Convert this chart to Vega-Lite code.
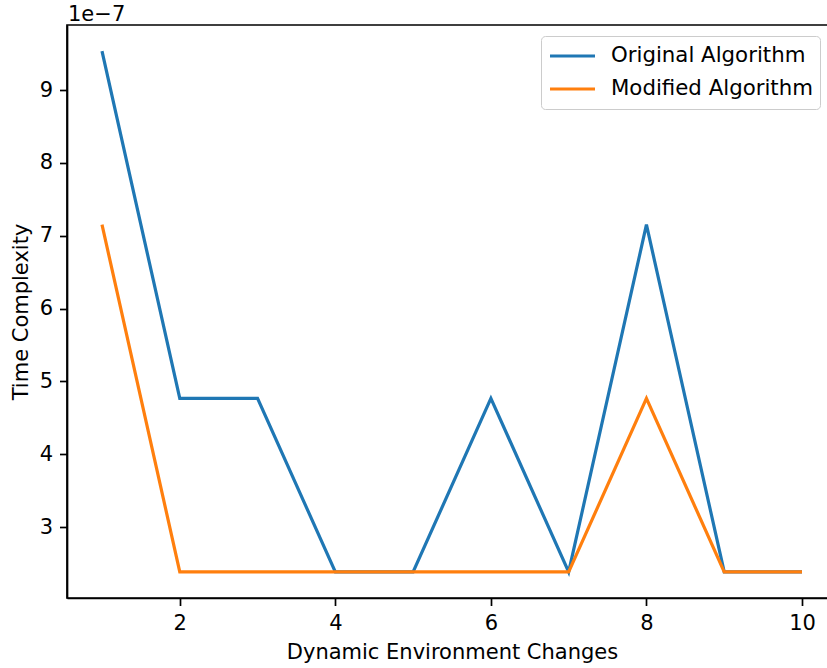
{
  "$schema": "https://vega.github.io/schema/vega-lite/v6.json",
  "width": 770,
  "height": 573,
  "autosize": {"type": "none"},
  "padding": {"left": 67, "top": 25, "right": 0, "bottom": 70},
  "background": "white",
  "title": {"text": "1e−7", "anchor": "start", "frame": "group", "fontSize": 21, "fontWeight": "normal", "font": "DejaVu Sans", "color": "#000", "offset": 5, "dy": 5, "dx": 1},
  "config": {
    "view": {"stroke": "#000", "strokeWidth": 1.7},
    "font": "DejaVu Sans",
    "axis": {
      "grid": false,
      "domainColor": "#000",
      "domainWidth": 1.7,
      "tickColor": "#000",
      "tickWidth": 1.7,
      "tickSize": 7.5,
      "labelFontSize": 21,
      "labelColor": "#000",
      "labelPadding": 7,
      "titleFontSize": 21,
      "titleFontWeight": "normal",
      "titleColor": "#000",
      "titlePadding": 8,
      "labelFont": "DejaVu Sans",
      "titleFont": "DejaVu Sans"
    }
  },
  "data": {
    "values": [
      {"change": 1, "time": 9.5367e-7, "series": "Original Algorithm"},
      {"change": 2, "time": 4.7684e-7, "series": "Original Algorithm"},
      {"change": 3, "time": 4.7684e-7, "series": "Original Algorithm"},
      {"change": 4, "time": 2.3842e-7, "series": "Original Algorithm"},
      {"change": 5, "time": 2.3842e-7, "series": "Original Algorithm"},
      {"change": 6, "time": 4.7684e-7, "series": "Original Algorithm"},
      {"change": 7, "time": 2.3842e-7, "series": "Original Algorithm"},
      {"change": 8, "time": 7.1526e-7, "series": "Original Algorithm"},
      {"change": 9, "time": 2.3842e-7, "series": "Original Algorithm"},
      {"change": 10, "time": 2.3842e-7, "series": "Original Algorithm"},
      {"change": 1, "time": 7.1526e-7, "series": "Modified Algorithm"},
      {"change": 2, "time": 2.3842e-7, "series": "Modified Algorithm"},
      {"change": 3, "time": 2.3842e-7, "series": "Modified Algorithm"},
      {"change": 4, "time": 2.3842e-7, "series": "Modified Algorithm"},
      {"change": 5, "time": 2.3842e-7, "series": "Modified Algorithm"},
      {"change": 6, "time": 2.3842e-7, "series": "Modified Algorithm"},
      {"change": 7, "time": 2.3842e-7, "series": "Modified Algorithm"},
      {"change": 8, "time": 4.7684e-7, "series": "Modified Algorithm"},
      {"change": 9, "time": 2.3842e-7, "series": "Modified Algorithm"},
      {"change": 10, "time": 2.3842e-7, "series": "Modified Algorithm"}
    ]
  },
  "mark": {"type": "line", "strokeWidth": 3.2, "clip": true},
  "encoding": {
    "x": {
      "field": "change", "type": "quantitative",
      "scale": {"domain": [0.55, 10.45], "nice": false, "zero": false},
      "axis": {"values": [2, 4, 6, 8, 10], "format": "d", "title": "Dynamic Environment Changes"}
    },
    "y": {
      "field": "time", "type": "quantitative",
      "scale": {"domain": [2.0266e-7, 9.8943e-7], "nice": false, "zero": false},
      "axis": {"values": [3e-7, 4e-7, 5e-7, 6e-7, 7e-7, 8e-7, 9e-7], "labelExpr": "format(datum.value * 1e7, '.0f')", "title": "Time Complexity"}
    },
    "color": {
      "field": "series", "type": "nominal",
      "scale": {"domain": ["Original Algorithm", "Modified Algorithm"], "range": ["#1f77b4", "#ff7f0e"]},
      "legend": {
        "title": null,
        "orient": "none",
        "legendX": 474,
        "legendY": 11,
        "padding": 7,
        "strokeColor": "#cccccc",
        "fillColor": "white",
        "cornerRadius": 4,
        "symbolType": "stroke",
        "symbolSize": 2025,
        "symbolStrokeWidth": 3.2,
        "labelFontSize": 21.3,
        "labelColor": "#000",
        "labelFont": "DejaVu Sans",
        "labelOffset": 14,
        "labelLimit": 0,
        "clipHeight": 26,
        "rowPadding": 7
      }
    },
    "order": {"field": "change", "type": "quantitative"}
  }
}
